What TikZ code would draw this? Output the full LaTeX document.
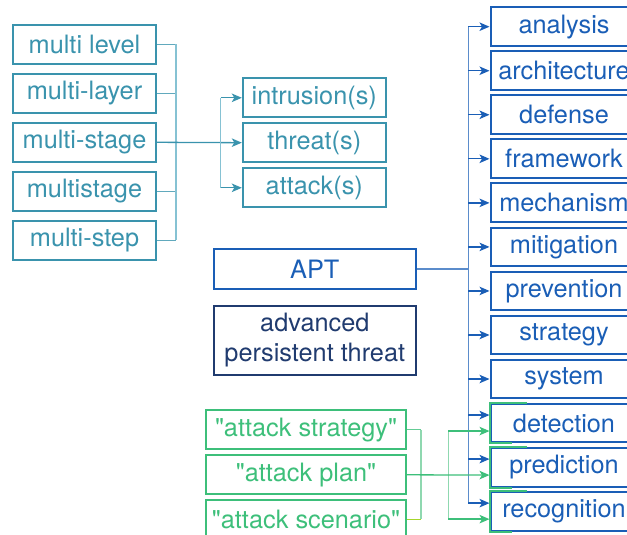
\documentclass[tikz,border=0pt]{standalone}
\usepackage{fontspec}
\setmainfont{TeX Gyre Heros}
\usepackage{tikz}
\usetikzlibrary{positioning,calc,arrows.meta}
\definecolor{tealc}{HTML}{3A93AD}
\definecolor{teall}{HTML}{86C2D3}
\definecolor{bluec}{HTML}{1A5EB6}
\definecolor{bluel}{HTML}{5B8CCB}
\definecolor{navyc}{HTML}{203B6F}
\definecolor{greenc}{HTML}{3DBF7A}
\definecolor{greenl}{HTML}{8FD8B0}
\definecolor{limec}{HTML}{A6D62C}
\newcommand\kwfont{\fontsize{25.3}{30}\selectfont}
\newcommand\qq[1]{\textquotedbl#1\textquotedbl}
\tikzset{kwbox/.style={draw, line width=2pt, inner sep=0pt, minimum height=38.8pt, font=\kwfont, align=center}}
\tikzset{tealbox/.style={kwbox, draw=tealc, text=tealc, minimum width=143pt}}
\tikzset{bluebox/.style={kwbox, draw=bluec, text=bluec, minimum width=147pt}}
\tikzset{greenbox/.style={kwbox, draw=greenc, text=greenc, minimum width=200pt}}
\tikzset{link/.style={draw, line width=1.3pt}}
\tikzset{arrlink/.style={link, -{Stealth[length=10pt,width=8.5pt,inset=2.5pt]}}}
\begin{document}
\begin{tikzpicture}[x=1pt,y=-1pt]
	\useasboundingbox (0,0) rectangle (627,535);
	\clip (0,0) rectangle (627,535);
	% left keyword column
	\foreach \t [count=\i] in {multi level,multi-layer,multi-stage,multistage,multi-step}
		\node[tealbox] (L\i) at (84.5,{44.3+49*(\i-1)}) {\t};
	\node[tealbox] (M1) at (314.3,97.8) {intrusion(s)};
	\node[tealbox] (M2) at (314.3,142.7) {threat(s)};
	\node[tealbox] (M3) at (314.3,187.8) {attack(s)};
	% APT
	\node[kwbox, draw=bluec, text=bluec, minimum width=201.7pt, minimum height=39.4pt] (apt) at (314.8,269) {APT};
	\node[kwbox, draw=navyc, text=navyc, minimum width=201.7pt, minimum height=69pt] (adv) at (314.8,340.5) {advanced\\persistent threat};
	% right column
	\foreach \t [count=\i] in {analysis,architecture,defense,framework,mechanism,mitigation,prevention,strategy,system,detection,prediction,recognition}
		\node[bluebox] (R\i) at (564,{26.7+44.04*(\i-1)}) {\t};
	\foreach \i in {10,11,12}
		\draw[greenc, line width=2pt] ([xshift=37pt]R\i.north west) -- (R\i.north west) -- (R\i.south west) -- ([xshift=22pt]R\i.south west);
	% quoted phrases
	\node[greenbox] (G1) at (306,429.8) {\qq{attack strategy}};
	\node[greenbox] (G2) at (306,474.8) {\qq{attack plan}};
	\node[greenbox] (G3) at (306,519.3) {\qq{attack scenario}};

	% teal connectors
	\coordinate (lbus) at (176,0);
	\coordinate (mbus) at (220.7,0);
	\foreach \i in {1,2,4,5}
		\draw[link, tealc!80] (L\i.east) -- (L\i.east -| lbus);
	\draw[link, teall] (L1.east -| lbus) -- (L5.east -| lbus);
	\draw[arrlink, tealc] (L3.east) -- (M2.west);
	\draw[link, teall] (M1.west -| mbus) -- (M3.west -| mbus);
	\draw[arrlink, tealc] (M1.west -| mbus) -- (M1.west);
	\draw[arrlink, tealc] (M3.west -| mbus) -- (M3.west);

	% blue connectors
	\coordinate (rbus) at (468.3,0);
	\draw[link, bluel] (apt.east) -- (apt.east -| rbus);
	\draw[link, bluel] (R1.west -| rbus) -- ($(R12.west -| rbus)+(0,-8)$);
	\foreach \i in {1,...,9}
		\draw[arrlink, bluec] (R\i.west -| rbus) -- (R\i.west);
	\foreach \i in {10,11,12}
		\draw[arrlink, bluec] ($(R\i.west -| rbus)+(0,-8)$) -- ($(R\i.west)+(0,-8)$);

	% green connectors
	\coordinate (gbus) at (421,0);
	\coordinate (hbus) at (448.3,0);
	\draw[link, greenc!80] (G1.east) -- (G1.east -| gbus);
	\draw[link, limec] (G3.east) -- (G3.east -| gbus);
	\draw[link, greenl] (G1.east -| gbus) -- (G3.east -| gbus);
	\draw[link, greenl] ($(R10.west -| hbus)+(0,8)$) -- ($(R12.west -| hbus)+(0,8)$);
	\draw[arrlink, greenc] (G2.east) -- ($(R11.west)+(0,8)$);
	\draw[arrlink, greenc] ($(R10.west -| hbus)+(0,8)$) -- ($(R10.west)+(0,8)$);
	\draw[arrlink, greenc] ($(R12.west -| hbus)+(0,8)$) -- ($(R12.west)+(0,8)$);
\end{tikzpicture}
\end{document}
